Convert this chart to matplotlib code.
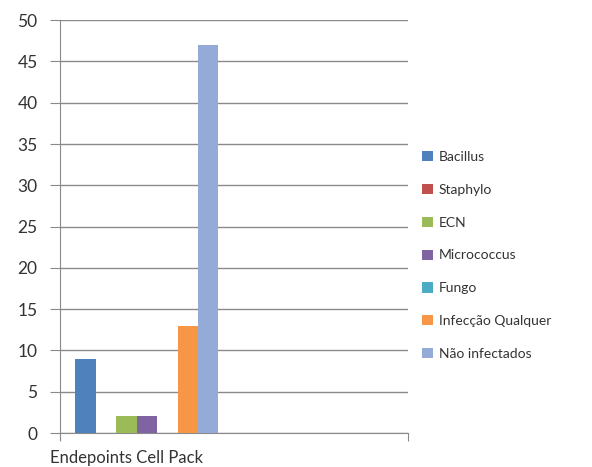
# Grouped bar chart - Endepoints Cell Pack
import matplotlib.pyplot as plt
import matplotlib.transforms as mtransforms
import numpy as np

# Data
categories = ["Endepoints Cell Pack", ""]
series = ["Bacillus", "Staphylo", "ECN", "Micrococcus", "Fungo",
          "Infecção Qualquer", "Não infectados"]
values = [
    [9, 0],
    [0, 0],
    [2, 0],
    [2, 0],
    [0, 0],
    [13, 0],
    [47, 0],
]
colors = ["#4F81BD", "#C0504D", "#9BBB59", "#8064A2", "#4BACC6",
          "#F79646", "#93ABD6"]

plt.rcParams["font.family"] = ["Lato", "DejaVu Sans"]

fig = plt.figure(figsize=(5.92, 4.67), dpi=100)
ax = fig.add_axes([0.101, 0.0728, 0.588, 0.884])

x = np.arange(len(categories))
n = len(series)
gap = 1.5  # Excel gap width 150%
w = 1.0 / (n + gap)
for i, (name, vals) in enumerate(zip(series, values)):
    offs = (i - (n - 1) / 2) * w
    ax.bar(x + offs, vals, width=w, color=colors[i], label=name, zorder=3)

ax.set_xlim(-0.5, len(categories) - 0.5)
ax.set_ylim(0, 50)
ax.set_yticks(range(0, 51, 5))
ax.yaxis.grid(True, color="#8a8a8a", linewidth=1.0, zorder=0)

# ticks only at the ends of the category axis, label at the centre
ax.set_xticks([-0.5, len(categories) - 0.5])
ax.set_xticklabels([])
ax.set_xticks(x, minor=True)
ax.set_xticklabels(categories, minor=True, fontsize=12, color="#333333")
ax.tick_params(axis="x", which="minor", length=0, pad=12)
ax.tick_params(axis="x", which="major", length=6, color="#8a8a8a")
ax.tick_params(axis="y", length=7, pad=9, labelsize=12.5,
               labelcolor="#333333", color="#8a8a8a")
shift = mtransforms.ScaledTranslation(-0.2, 0, fig.dpi_scale_trans)
for lbl in ax.get_xticklabels(minor=True):
    lbl.set_transform(lbl.get_transform() + shift)

for side in ["top", "right"]:
    ax.spines[side].set_visible(False)
ax.spines["left"].set_color("#8a8a8a")
ax.spines["bottom"].set_color("#8a8a8a")

ax.legend(loc="center left", bbox_to_anchor=(1.005, 0.43), frameon=False,
          fontsize=10, handlelength=0.75, handleheight=0.75,
          handletextpad=0.45, labelspacing=1.5, labelcolor="#333333")

plt.savefig("out.png", dpi=100)
